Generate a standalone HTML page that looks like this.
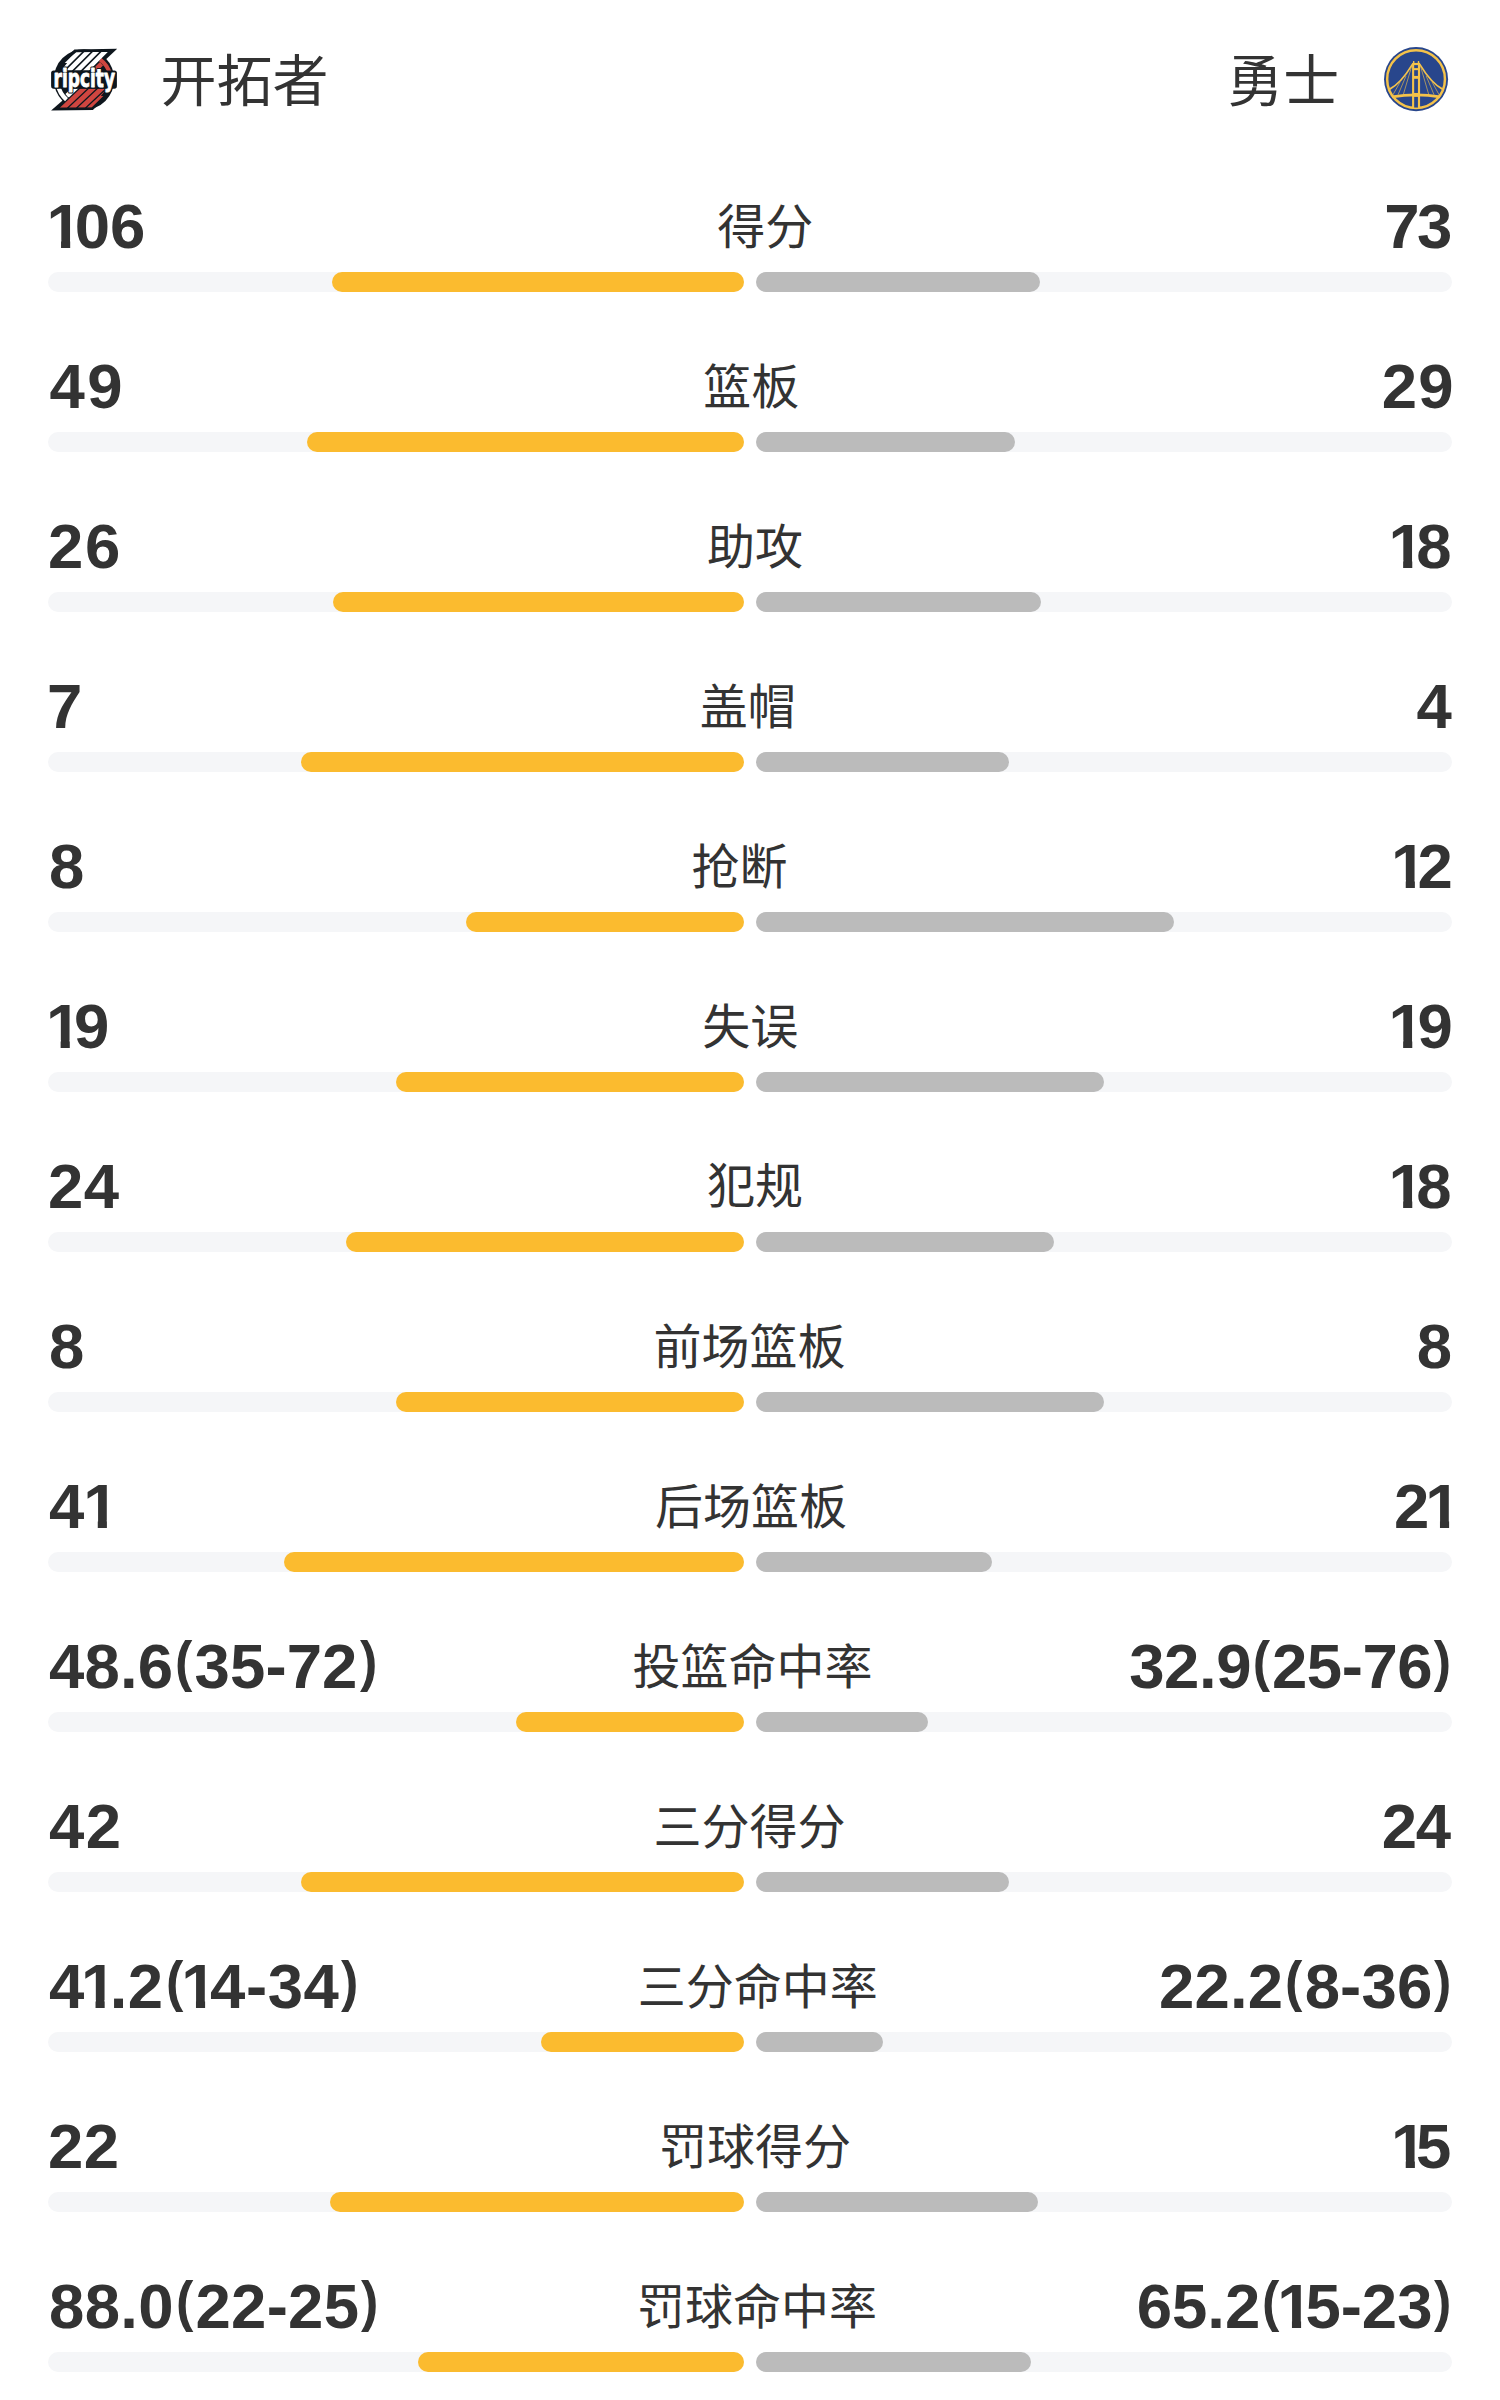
<!DOCTYPE html>
<html lang="zh-CN"><head><meta charset="utf-8"><title>技术统计</title>
<style>
html,body{margin:0;padding:0;background:#fff;}
body{width:1500px;height:2400px;position:relative;overflow:hidden;}
.n{position:absolute;font:bold 63.5px 'Liberation Sans', sans-serif;line-height:100px;color:#333;white-space:nowrap;}
.l{position:absolute;font:400 48px 'Liberation Sans','Noto Sans CJK SC', sans-serif;line-height:100px;color:#333;white-space:nowrap;}
.team{position:absolute;font:400 56px 'Liberation Sans','Noto Sans CJK SC', sans-serif;line-height:100px;color:#333;white-space:nowrap;}
.one{display:inline-block;margin:0 -7.17px 0 -4.10px;clip-path:polygon(0 0,100% 0,100% 63.93px,23.78px 63.93px,23.78px 100%,14.64px 100%,14.64px 63.93px,0 63.93px);}
.pr{display:inline-block;transform-origin:50% 55.62px;transform:translateY(-5.96px) scale(0.82,0.883);}
.t{position:absolute;width:696px;height:20px;border-radius:10px;background:#f5f6f8;}
.y{position:absolute;height:20px;border-radius:10px;background:#fbbb2f;}
.g{position:absolute;left:756px;height:20px;border-radius:10px;background:#bbbbbb;}
</style></head><body>
<div class="team" style="left:160.5px;top:32.3px">开拓者</div>
<div class="team" style="left:1227.3px;top:32.3px">勇士</div>
<svg style="position:absolute;left:46px;top:44px" width="76" height="72" viewBox="46 44 76 72">
<defs>
<clipPath id="pU"><path d="M40 40H125V70.6H40Z"/></clipPath>
<clipPath id="pL"><path d="M40 88.6H125V120H40Z"/></clipPath>
<clipPath id="pC"><circle cx="84" cy="79.5" r="23.6"/></clipPath>
<clipPath id="pInU"><circle cx="84" cy="79.5" r="23.6"/><path d="M76.3 52.3L111.6 51.8L99.6 63L62.5 63Z"/></clipPath>
<clipPath id="pInL"><circle cx="84" cy="79.5" r="23.6"/><path d="M56.8 107.7L91.6 107.4L103.4 96L68.5 96Z"/></clipPath>
</defs>
<g fill="#0e161d">
<circle cx="84" cy="79.5" r="30.3"/>
<path d="M74.4 49.5L117.2 48.8L101.5 63.5L59.5 63.5Z"/>
<path d="M51.1 110.5L92.9 110.1L107 96L67.7 96Z"/>
</g>
<path d="M100.2 59.6A26.4 26.4 0 0 1 110 74" fill="none" stroke="#cf4640" stroke-width="4"/>
<path d="M66.5 99.6A26.4 26.4 0 0 1 57.8 84" fill="none" stroke="#fff" stroke-width="4.4"/>
<g clip-path="url(#pU)"><g clip-path="url(#pInU)">
<path fill="#fff" d="M75.7 52H82L62 72H55.7ZM84.3 52H90.6L70.6 72H64.3ZM92.9 52H99.2L79.2 72H72.9ZM101.5 52H107.8L87.8 72H81.5Z"/>
</g>
<path clip-path="url(#pC)" fill="#cf4640" d="M110 52H116.6L96.6 72H90Z"/>
</g>
<g clip-path="url(#pL)"><g clip-path="url(#pInL)">
<path fill="#cf4640" d="M59.8 107.8H66.9L87.9 88H80.8ZM68.8 107.8H75.9L96.9 88H89.8ZM77.8 107.8H84.9L105.9 88H98.8ZM86.8 107.8H93.9L114.9 88H107.8Z"/>
</g>
<path clip-path="url(#pC)" fill="#fff" d="M50.8 107.8H57.9L78.9 88H71.8Z"/>
</g>
<rect x="51.1" y="70.5" width="65.8" height="18.2" rx="2.6" fill="#0e161d"/>
<g font-family="DejaVu Sans Condensed, DejaVu Sans, sans-serif" font-weight="bold" font-size="25.5">
<text x="53.6" y="86.6" textLength="61.4" lengthAdjust="spacingAndGlyphs" fill="#fff" stroke="#0e161d" stroke-width="3.2" stroke-linejoin="round">ripcity</text>
<text x="53.6" y="86.6" textLength="61.4" lengthAdjust="spacingAndGlyphs" fill="#fff" stroke="#fff" stroke-width="0.8" stroke-linejoin="round">ripcity</text>
</g>
</svg>
<svg style="position:absolute;left:1380px;top:44px" width="72" height="72" viewBox="0 0 1500 1500">
<circle cx="751" cy="732" r="667" fill="#28468c"/>
<circle cx="751" cy="732" r="602" fill="none" stroke="#f4c24a" stroke-width="52"/>
<g fill="none" stroke="#f4c24a" stroke-linecap="round">
<path d="M675 425Q435 821 195 945M829 425Q1069 821 1309 945" stroke-width="36"/>
<path d="M655 480L490 1040M540 670L380 1048M415 800L270 1058M849 480L1012 1040M964 670L1122 1048M1089 800L1232 1058" stroke-width="16" opacity="0.8"/>
<path d="M250 1100Q752 1020 1254 1100" stroke-width="58" stroke-linecap="butt"/>
</g>
<g fill="#f4c24a">
<path d="M668 395H835V1340H668Z"/>
<path d="M685 395L690 355H715L718 395ZM786 395L790 355H815L820 395Z"/>
</g>
<g fill="#28468c">
<rect x="712" y="440" width="78" height="62"/>
<rect x="712" y="545" width="78" height="120"/>
<rect x="712" y="725" width="78" height="295"/>
<rect x="712" y="1102" width="78" height="222"/>
</g>
</svg>

<div class="n" style="left:50.5px;top:176px;letter-spacing:0.10px"><span class="one">1</span>06</div>
<div class="l" style="left:717.2px;top:177.5px">得分</div>
<div class="n" style="left:1384.2px;top:176px;letter-spacing:-2.40px">73</div>
<div class="t" style="top:272px;left:48px"></div>
<div class="t" style="top:272px;left:756px"></div>
<div class="y" style="top:272px;left:331.8px;width:412.2px"></div>
<div class="g" style="top:272px;width:283.8px"></div>
<div class="n" style="left:49.4px;top:336px;letter-spacing:2.60px">49</div>
<div class="l" style="left:703.3px;top:337.5px">篮板</div>
<div class="n" style="left:1381.8px;top:336px;letter-spacing:1.10px">29</div>
<div class="t" style="top:432px;left:48px"></div>
<div class="t" style="top:432px;left:756px"></div>
<div class="y" style="top:432px;left:306.8px;width:437.2px"></div>
<div class="g" style="top:432px;width:258.8px"></div>
<div class="n" style="left:48.1px;top:496px;letter-spacing:1.70px">26</div>
<div class="l" style="left:707.1px;top:498.0px">助攻</div>
<div class="n" style="left:1392.6px;top:496px;letter-spacing:-0.50px"><span class="one">1</span>8</div>
<div class="t" style="top:592px;left:48px"></div>
<div class="t" style="top:592px;left:756px"></div>
<div class="y" style="top:592px;left:332.7px;width:411.3px"></div>
<div class="g" style="top:592px;width:284.7px"></div>
<div class="n" style="left:47.1px;top:656px;letter-spacing:0.00px">7</div>
<div class="l" style="left:699.7px;top:657.5px">盖帽</div>
<div class="n" style="left:1416.5px;top:656px;letter-spacing:0.00px">4</div>
<div class="t" style="top:752px;left:48px"></div>
<div class="t" style="top:752px;left:756px"></div>
<div class="y" style="top:752px;left:301.1px;width:442.9px"></div>
<div class="g" style="top:752px;width:253.1px"></div>
<div class="n" style="left:49.1px;top:816px;letter-spacing:0.00px">8</div>
<div class="l" style="left:691.4px;top:817.5px">抢断</div>
<div class="n" style="left:1395.2px;top:816px;letter-spacing:-1.80px"><span class="one">1</span>2</div>
<div class="t" style="top:912px;left:48px"></div>
<div class="t" style="top:912px;left:756px"></div>
<div class="y" style="top:912px;left:465.6px;width:278.4px"></div>
<div class="g" style="top:912px;width:417.6px"></div>
<div class="n" style="left:50.1px;top:976px;letter-spacing:-0.20px"><span class="one">1</span>9</div>
<div class="l" style="left:702.3px;top:978.0px">失误</div>
<div class="n" style="left:1392.6px;top:976px;letter-spacing:0.80px"><span class="one">1</span>9</div>
<div class="t" style="top:1072px;left:48px"></div>
<div class="t" style="top:1072px;left:756px"></div>
<div class="y" style="top:1072px;left:396.0px;width:348.0px"></div>
<div class="g" style="top:1072px;width:348.0px"></div>
<div class="n" style="left:48.1px;top:1136px;letter-spacing:0.40px">24</div>
<div class="l" style="left:707.0px;top:1137.0px">犯规</div>
<div class="n" style="left:1392.6px;top:1136px;letter-spacing:-0.50px"><span class="one">1</span>8</div>
<div class="t" style="top:1232px;left:48px"></div>
<div class="t" style="top:1232px;left:756px"></div>
<div class="y" style="top:1232px;left:346.3px;width:397.7px"></div>
<div class="g" style="top:1232px;width:298.3px"></div>
<div class="n" style="left:49.1px;top:1296px;letter-spacing:0.00px">8</div>
<div class="l" style="left:653.5px;top:1297.5px">前场篮板</div>
<div class="n" style="left:1416.7px;top:1296px;letter-spacing:0.00px">8</div>
<div class="t" style="top:1392px;left:48px"></div>
<div class="t" style="top:1392px;left:756px"></div>
<div class="y" style="top:1392px;left:396.0px;width:348.0px"></div>
<div class="g" style="top:1392px;width:348.0px"></div>
<div class="n" style="left:49.1px;top:1456px;letter-spacing:2.80px">4<span class="one">1</span></div>
<div class="l" style="left:654.9px;top:1457.5px">后场篮板</div>
<div class="n" style="left:1393.9px;top:1456px;letter-spacing:0.20px">2<span class="one">1</span></div>
<div class="t" style="top:1552px;left:48px"></div>
<div class="t" style="top:1552px;left:756px"></div>
<div class="y" style="top:1552px;left:283.7px;width:460.3px"></div>
<div class="g" style="top:1552px;width:235.7px"></div>
<div class="n" style="left:49.1px;top:1616px;letter-spacing:0.13px">48.6<span class="pr">(</span>35-72<span class="pr">)</span></div>
<div class="l" style="left:632.4px;top:1617.5px">投篮命中率</div>
<div class="n" style="left:1129.2px;top:1616px;letter-spacing:-0.41px">32.9<span class="pr">(</span>25-76<span class="pr">)</span></div>
<div class="t" style="top:1712px;left:48px"></div>
<div class="t" style="top:1712px;left:756px"></div>
<div class="y" style="top:1712px;left:516.3px;width:227.7px"></div>
<div class="g" style="top:1712px;width:172.3px"></div>
<div class="n" style="left:49.1px;top:1776px;letter-spacing:1.40px">42</div>
<div class="l" style="left:653.4px;top:1777.5px">三分得分</div>
<div class="n" style="left:1381.8px;top:1776px;letter-spacing:-1.40px">24</div>
<div class="t" style="top:1872px;left:48px"></div>
<div class="t" style="top:1872px;left:756px"></div>
<div class="y" style="top:1872px;left:301.1px;width:442.9px"></div>
<div class="g" style="top:1872px;width:253.1px"></div>
<div class="n" style="left:49.1px;top:1936px;letter-spacing:0.56px">4<span class="one">1</span>.2<span class="pr">(</span><span class="one">1</span>4-34<span class="pr">)</span></div>
<div class="l" style="left:637.8px;top:1937.5px">三分命中率</div>
<div class="n" style="left:1159.1px;top:1936px;letter-spacing:0.16px">22.2<span class="pr">(</span>8-36<span class="pr">)</span></div>
<div class="t" style="top:2032px;left:48px"></div>
<div class="t" style="top:2032px;left:756px"></div>
<div class="y" style="top:2032px;left:541.0px;width:203.0px"></div>
<div class="g" style="top:2032px;width:126.5px"></div>
<div class="n" style="left:48.1px;top:2096px;letter-spacing:0.40px">22</div>
<div class="l" style="left:659.0px;top:2097.5px">罚球得分</div>
<div class="n" style="left:1395.2px;top:2096px;letter-spacing:-3.30px"><span class="one">1</span>5</div>
<div class="t" style="top:2192px;left:48px"></div>
<div class="t" style="top:2192px;left:756px"></div>
<div class="y" style="top:2192px;left:330.2px;width:413.8px"></div>
<div class="g" style="top:2192px;width:282.2px"></div>
<div class="n" style="left:49.1px;top:2256px;letter-spacing:0.31px">88.0<span class="pr">(</span>22-25<span class="pr">)</span></div>
<div class="l" style="left:636.9px;top:2257.5px">罚球命中率</div>
<div class="n" style="left:1136.8px;top:2256px;letter-spacing:-0.03px">65.2<span class="pr">(</span><span class="one">1</span>5-23<span class="pr">)</span></div>
<div class="t" style="top:2352px;left:48px"></div>
<div class="t" style="top:2352px;left:756px"></div>
<div class="y" style="top:2352px;left:418.2px;width:325.8px"></div>
<div class="g" style="top:2352px;width:274.7px"></div>
</body></html>
